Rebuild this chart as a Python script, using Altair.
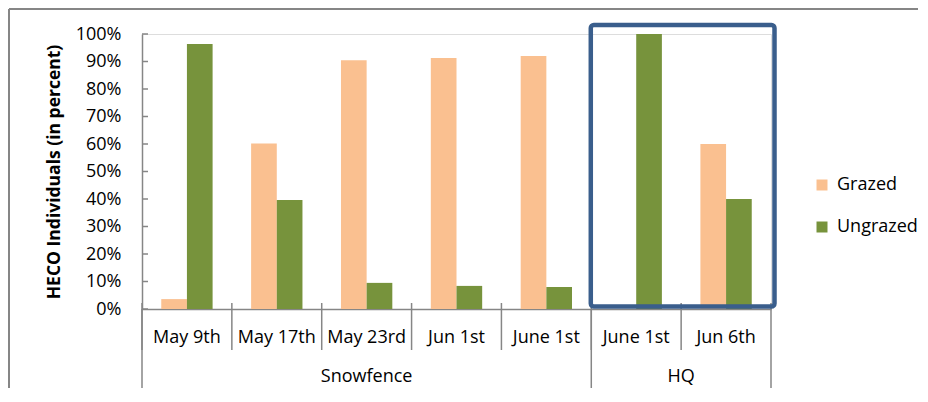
import altair as alt
import pandas as pd

# ---- data ----
groups = ["Snowfence", "Snowfence", "Snowfence", "Snowfence", "Snowfence", "HQ", "HQ"]
dates = ["May 9th", "May 17th", "May 23rd", "Jun 1st", "June 1st", "June 1st", "Jun 6th"]
grazed = [0.036, 0.602, 0.905, 0.913, 0.920, 0.0, 0.600]
ungrazed = [0.964, 0.396, 0.095, 0.084, 0.080, 1.0, 0.400]
series = ["Grazed", "Ungrazed"]
colors = ["#FAC090", "#77933C"]
y_ticks = [0.0, 0.1, 0.2, 0.3, 0.4, 0.5, 0.6, 0.7, 0.8, 0.9, 1.0]
highlight_group = "HQ"

FONT = "Open Sans"
FS = 18
GREY = "#868686"
W, H = 629, 275
PAD = {"left": 134, "top": 26, "right": 147, "bottom": 79}

keys = [f"{g}|{d}" for g, d in zip(groups, dates)]
rows = []
for k, g, d, a, b in zip(keys, groups, dates, grazed, ungrazed):
    rows.append({"key": k, "group": g, "date": d, "series": series[0], "value": a})
    rows.append({"key": k, "group": g, "date": d, "series": series[1], "value": b})
df = pd.DataFrame(rows)

xscale = alt.Scale(domain=keys, paddingInner=0, paddingOuter=0)
xaxis = alt.Axis(labelExpr="split(datum.value, '|')[1]", labelAngle=0, labelOverlap=False,
                 ticks=False, tickSize=0, labelPadding=19, labelFontSize=FS,
                 labelColor="#000000", labelFont=FONT, domainColor=GREY,
                 domainWidth=1.5, grid=False, title=None)
yscale = alt.Scale(domain=[0, 1], nice=False)
yaxis = alt.Axis(values=y_ticks, format=".0%", ticks=False, tickSize=0,
                 labelOverlap=False,
                 labelPadding=21, labelFontSize=FS, labelColor="#000000",
                 labelFont=FONT, domainColor=GREY, domainWidth=1.5, grid=False,
                 title="HECO Individuals (in percent)", titleFont=FONT,
                 titleFontSize=17.5, titleFontWeight="bold", titleColor="#000000",
                 titlePadding=12)


def xenc(field="key", band=0.5):
    return alt.X(f"{field}:N", scale=xscale, bandPosition=band, axis=xaxis, title=None)


bars = alt.Chart(df).mark_bar().encode(
    x=alt.X("key:N", scale=xscale, title=None, axis=xaxis),
    xOffset=alt.XOffset("series:N", sort=series,
                        scale=alt.Scale(paddingInner=0, paddingOuter=0.75)),
    y=alt.Y("value:Q", scale=yscale, axis=yaxis),
    color=alt.Color("series:N", scale=alt.Scale(domain=series, range=colors),
                    legend=alt.Legend(title=None, orient="none", legendX=671, legendY=142,
                                      symbolType="square", symbolSize=121,
                                      symbolStrokeWidth=0, labelFontSize=FS,
                                      labelFont=FONT, labelColor="#000000",
                                      labelOffset=6, rowPadding=24, padding=0)),
)

# inward y-axis ticks
tick_df = pd.DataFrame({"t": y_ticks})
yticks = alt.Chart(tick_df).mark_rule(color=GREY, strokeWidth=1.5).encode(
    y=alt.Y("t:Q", scale=yscale, axis=yaxis),
    x=alt.value(0), x2=alt.value(6),
)

# category separators (short)
cat_df = pd.DataFrame({"key": keys})
short_sep = alt.Chart(cat_df).mark_rule(color=GREY, strokeWidth=1.5).encode(
    x=xenc(band=0), y=alt.value(H - 6), y2=alt.value(H + 41))
end_df = pd.DataFrame({"key": [keys[-1]]})
short_end = alt.Chart(end_df).mark_rule(color=GREY, strokeWidth=1.5).encode(
    x=xenc(band=1), y=alt.value(H - 6), y2=alt.value(H + 83))

# group separators (long)
group_names = list(dict.fromkeys(groups))
first_keys = [keys[groups.index(g)] for g in group_names]
grp_df = pd.DataFrame({"key": first_keys})
long_sep = alt.Chart(grp_df).mark_rule(color=GREY, strokeWidth=1.5).encode(
    x=xenc(band=0), y=alt.value(H), y2=alt.value(H + 83))

# group labels
label_layers = []
for g in group_names:
    members = [k for k, gg in zip(keys, groups) if gg == g]
    n = len(members)
    mid = members[n // 2]
    band = 0.5 if n % 2 == 1 else 0.0
    ldf = pd.DataFrame({"key": [mid], "label": [g]})
    label_layers.append(
        alt.Chart(ldf).mark_text(font=FONT, fontSize=FS, color="#000000",
                                 baseline="middle", align="center").encode(
            x=xenc(band=band), y=alt.value(H + 68), text="label:N"))

# highlight frame around HQ
hq_keys = [k for k, g in zip(keys, groups) if g == highlight_group]
frame_df = pd.DataFrame({"start": [hq_keys[0]], "end": [hq_keys[-1]]})
frame = alt.Chart(frame_df).mark_rect(
    fillOpacity=0, stroke="#3A5E8C", strokeWidth=4.5, cornerRadius=3,
    xOffset=-0.5, x2Offset=3.5).encode(
    x=alt.X("start:N", scale=xscale, bandPosition=0, title=None, axis=xaxis),
    x2=alt.X2("end:N", bandPosition=1),
    y=alt.value(-9), y2=alt.value(272.5))

# outer chart border (top and left visible)
border_top = alt.Chart(cat_df).mark_rule(color=GREY, strokeWidth=1.5).encode(
    x=alt.value(-PAD["left"] + 1), x2=alt.value(W + PAD["right"]), y=alt.value(-PAD["top"] + 1))
border_left = alt.Chart(cat_df).mark_rule(color=GREY, strokeWidth=1.5).encode(
    x=alt.value(-PAD["left"] + 1), y=alt.value(-PAD["top"] + 1), y2=alt.value(H + PAD["bottom"]))

chart = alt.layer(
    bars, yticks, short_sep, short_end, long_sep, *label_layers, frame, border_top, border_left
).properties(
    width=W, height=H, padding=PAD, autosize=alt.AutoSizeParams(type="none"),
    background="#ffffff",
).configure_view(stroke=None).configure(font=FONT)

chart.save("out.html", embed_options={"renderer": "svg", "actions": False})
